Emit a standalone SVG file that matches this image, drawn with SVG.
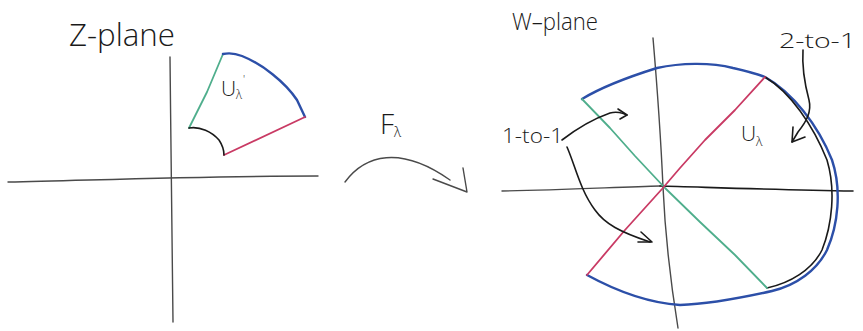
<svg xmlns="http://www.w3.org/2000/svg" width="863" height="331" viewBox="0 0 863 331">
<style>
.ln{fill:none;stroke-linecap:round;stroke-linejoin:round}
.ax{stroke:#4a4a4a;stroke-width:1.4}
.ink{stroke:#1a1a1a;stroke-width:1.6}
.blue{stroke:#2c4fa8;stroke-width:2.4}
.green{stroke:#4fae8c;stroke-width:1.8}
.pink{stroke:#c93a64;stroke-width:1.8}
.t{font-family:"Open Sans","Liberation Sans",sans-serif;font-weight:300;fill:#1a1a1a}
</style>
<rect width="863" height="331" fill="#fff"/>
<g id="z-plane">
  <text class="t" x="69" y="46" font-size="31" textLength="106" lengthAdjust="spacingAndGlyphs">Z-plane</text>
  <path class="ln ax" d="M8,182 C100,180 200,176 318,176"/>
  <path class="ln ax" d="M170,57 C171,150 172,250 173,322"/>
  <g id="region-z">
    <path class="ln green" d="M189,128 L207,92 L223,54"/>
    <path class="ln blue" d="M223,54 Q232,52 242,56 C262,64 285,82 297,100 L305,117"/>
    <path class="ln pink" d="M305,117 L224,155"/>
    <path class="ln ink" d="M189,128 C200,126 212,132 219,140 C223,146 224,150 224,155"/>
    <text class="t" x="221" y="96" font-size="21">U<tspan font-size="12" dy="3">λ</tspan></text>
    <text class="t" x="243" y="83" font-size="11">'</text>
  </g>
</g>
<g id="map-arrow">
  <text class="t" x="380" y="134" font-size="28">F<tspan font-size="14" dy="3">λ</tspan></text>
  <path class="ln ax" d="M345,182 C365,155 400,145 450,180"/>
  <path class="ln ax" d="M433,179 L467,192 L463,168"/>
</g>
<g id="w-plane">
  <text class="t" x="512" y="30" font-size="23" textLength="86" lengthAdjust="spacingAndGlyphs">W–plane</text>
  <path class="ln ax" d="M653,38 Q660,120 663,187 T678,328"/>
  <path class="ln ax" d="M502,191 C560,190 620,187 660,186"/>
  <path class="ln ink" d="M660,186 C700,187 780,190 853,191"/>
  <g id="region-w">
    <path class="ln blue" d="M582,99 C600,88 625,78 657,68 C680,63 710,62 733,68 C750,72 758,74 765,77 C792,92 818,125 832,160 C842,190 838,225 827,250 C817,270 797,285 772,291 C745,297 710,304 680,305 C650,303 620,293 587,275"/>
    <path class="ln ink" d="M765,77 C790,92 813,125 827,160 C836,190 832,225 822,250 C812,270 790,283 767,288"/>
    <path class="ln green" d="M582,99 L610,128 L635,156 L665,188 L700,222 L735,255 L767,288"/>
    <path class="ln pink" d="M765,77 L735,110 L705,140 L680,168 L662,189 L625,230 L587,275"/>
    <text class="t" x="741" y="141" font-size="21">U<tspan font-size="13" dy="5">λ</tspan></text>
  </g>
</g>
<g id="annotations">
  <text class="t" x="502" y="143" font-size="20" textLength="61" lengthAdjust="spacingAndGlyphs">1-to-1</text>
  <path class="ln ink" d="M562,140 C575,130 590,120 610,113 C617,111 622,113 627,115"/>
  <path class="ln ink" d="M618,109 L627,115 L620,119"/>
  <path class="ln ink" d="M567,147 C575,165 580,190 595,210 C605,224 620,232 650,242"/>
  <path class="ln ink" d="M641,232 L652,242 L638,242"/>
  <text class="t" x="779" y="48" font-size="21" textLength="77" lengthAdjust="spacingAndGlyphs">2-to-1</text>
  <path class="ln ink" d="M803,50 C802,65 805,85 809,100 C812,112 806,122 798,132 L792,142"/>
  <path class="ln ink" d="M793,127 L792,142 L805,137"/>
</g>
</svg>
